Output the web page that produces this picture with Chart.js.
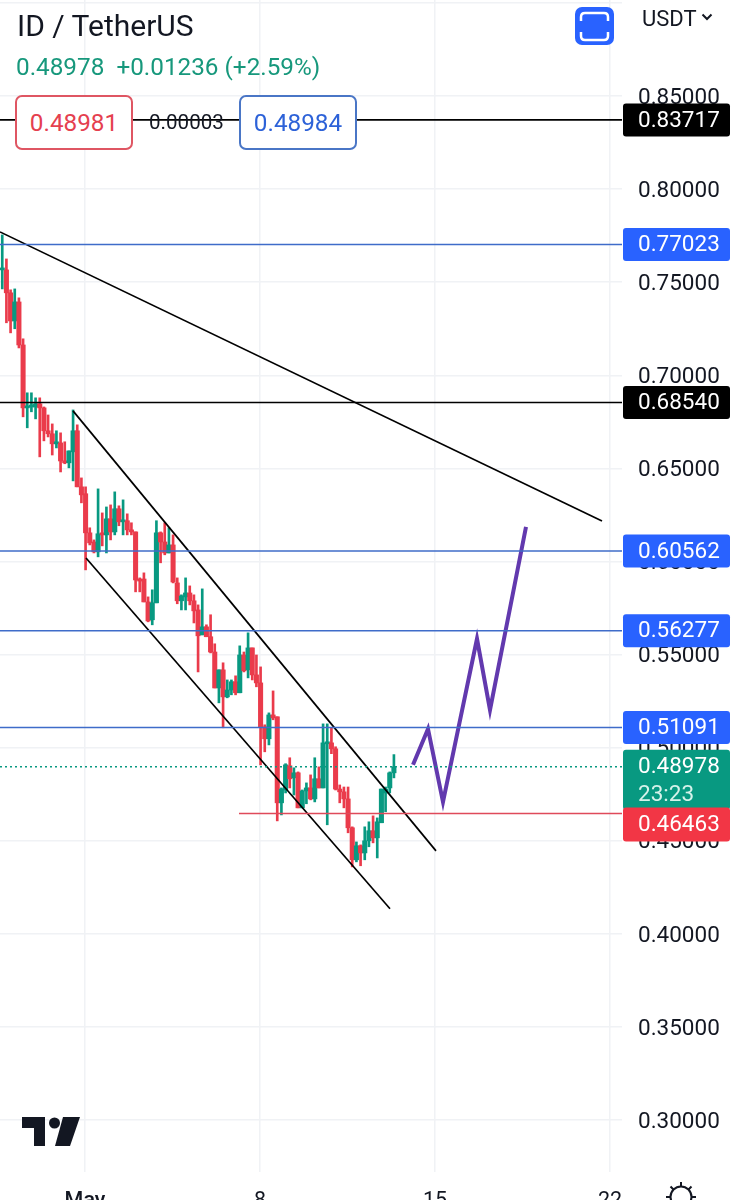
<!DOCTYPE html>
<html>
<head>
<meta charset="utf-8">
<title>ID / TetherUS</title>
<script src="https://cdn.jsdelivr.net/npm/chart.js@4"></script>
<style>
    html, body { margin: 0; padding: 0; background: #fff; }
    body { position: relative; width: 739px; height: 1200px; overflow: hidden; font-family: Roboto, sans-serif; color: #131722; }
    canvas { position: absolute; left: 0; top: 0; }
    .text { position: absolute; white-space: pre; line-height: 1; }
    .box { position: absolute; top: 95px; box-sizing: border-box; width: 118px; height: 55px; border-radius: 7px; border: 2px solid; background: #fff; font-size: 24.3px; line-height: 52px; text-align: center; }
    svg { position: absolute; }
</style>
</head>
<body>
<canvas id="chart" width="739" height="1200"></canvas>

<div class="text" style="left:17px;top:11px;font-size:30px;">ID / TetherUS</div>
<div class="text" style="left:16px;top:55px;font-size:24.3px;color:#17987c;">0.48978  +0.01236 (+2.59%)</div>
<div class="box" style="left:15px;color:#e5404f;border-color:#df5663;">0.48981</div>
<div class="text" style="left:149px;top:112px;font-size:20.6px;">0.00003</div>
<div class="box" style="left:239px;color:#2d62d8;border-color:#4a76c6;">0.48984</div>
<div class="text" style="left:642px;top:8px;font-size:22px;">USDT</div>

<svg style="left:701px;top:13px" width="12" height="8" viewBox="0 0 12 8"><path d="M1.5 1.5 L6 6 L10.5 1.5" fill="none" stroke="#131722" stroke-width="2"/></svg>

<svg style="left:575px;top:7px" width="39" height="38" viewBox="0 0 39 38">
    <rect width="39" height="38" rx="7" fill="#2962ff"/>
    <path d="M6 14 V10 Q6 6 10 6 H29 Q33 6 33 10 V14" fill="none" stroke="#fff" stroke-width="2.5"/>
    <path d="M6 25 V29 Q6 33 10 33 H29 Q33 33 33 29 V25" fill="none" stroke="#fff" stroke-width="2.5"/>
</svg>

<svg style="left:22px;top:1117px" width="58" height="29" viewBox="0 0 58 29">
    <path d="M0 0 H23 V29 H12 V11 H0 Z" fill="#131722"/>
    <circle cx="32.5" cy="6" r="5.5" fill="#131722"/>
    <path d="M41 0 H58 L48 29 H33 Z" fill="#131722"/>
</svg>

<svg style="left:664px;top:1180px" width="34" height="34" viewBox="0 0 34 34" fill="none" stroke="#131722" stroke-width="2">
    <circle cx="17" cy="17" r="10.5"/>
    <path d="M17 2 V6 M6.5 6.5 L9.5 9.5 M27.5 6.5 L24.5 9.5 M2 17 H6 M28 17 H32"/>
</svg>

<script>
// 4h candles, oldest first
const opens = [
    0.7566, 0.7566, 0.7443, 0.7292, 0.7394, 0.7163, 0.6825, 0.6830, 0.6830, 0.6847,
    0.6825, 0.6702, 0.6686, 0.6632, 0.6637, 0.6540, 0.6530, 0.6589, 0.6702, 0.6401,
    0.6364, 0.6154, 0.6105, 0.6052, 0.6154, 0.6143, 0.6229, 0.6159, 0.6283, 0.6213,
    0.6219, 0.6170, 0.6159, 0.5906, 0.5906, 0.5783, 0.5687, 0.5778, 0.6154, 0.6105,
    0.6046, 0.6089, 0.5885, 0.5789, 0.5810, 0.5831, 0.5789, 0.5740, 0.5606, 0.5649,
    0.5596, 0.5514, 0.5321, 0.5418, 0.5273, 0.5310, 0.5354, 0.5295, 0.5498, 0.5418,
    0.5536, 0.5391, 0.5348, 0.5112, 0.5048, 0.5176, 0.5166, 0.4704, 0.4773, 0.4903,
    0.4838, 0.4865, 0.4677, 0.4768, 0.4784, 0.4725, 0.4833, 0.4784, 0.5021, 0.5026,
    0.4994, 0.4778, 0.4763, 0.4725, 0.4570, 0.4398, 0.4473, 0.4435, 0.4500, 0.4554,
    0.4516, 0.4597, 0.4757, 0.4784, 0.4865
];
const highs = [
    0.7754, 0.7625, 0.7459, 0.7464, 0.7416, 0.7196, 0.6906, 0.6906, 0.6879, 0.6879,
    0.6830, 0.6787, 0.6739, 0.6702, 0.6691, 0.6643, 0.6594, 0.6814, 0.6734, 0.6449,
    0.6401, 0.6181, 0.6116, 0.6390, 0.6261, 0.6293, 0.6304, 0.6374, 0.6299, 0.6331,
    0.6256, 0.6208, 0.6159, 0.5912, 0.5939, 0.5810, 0.5848, 0.6219, 0.6159, 0.6208,
    0.6181, 0.6143, 0.5912, 0.5821, 0.5912, 0.5869, 0.5821, 0.5767, 0.5853, 0.5660,
    0.5714, 0.5558, 0.5418, 0.5456, 0.5364, 0.5364, 0.5386, 0.5547, 0.5514, 0.5617,
    0.5536, 0.5498, 0.5434, 0.5123, 0.5187, 0.5305, 0.5166, 0.4784, 0.4914, 0.4946,
    0.4892, 0.4870, 0.4773, 0.4811, 0.4854, 0.4946, 0.4897, 0.5128, 0.5128, 0.5107,
    0.5005, 0.4800, 0.4789, 0.4789, 0.4575, 0.4494, 0.4478, 0.4575, 0.4602, 0.4634,
    0.4623, 0.4778, 0.4789, 0.4870, 0.4963
];
const lows = [
    0.7464, 0.7282, 0.7228, 0.7250, 0.7147, 0.6777, 0.6718, 0.6804, 0.6766, 0.6562,
    0.6648, 0.6669, 0.6572, 0.6610, 0.6481, 0.6525, 0.6503, 0.6433, 0.6401, 0.6315,
    0.5955, 0.6089, 0.6046, 0.6025, 0.6084, 0.6046, 0.6116, 0.6143, 0.6192, 0.6143,
    0.6143, 0.6143, 0.5837, 0.5837, 0.5783, 0.5676, 0.5660, 0.5778, 0.5993, 0.6036,
    0.6046, 0.5885, 0.5773, 0.5740, 0.5740, 0.5767, 0.5670, 0.5407, 0.5606, 0.5596,
    0.5509, 0.5321, 0.5241, 0.5107, 0.5268, 0.5284, 0.5284, 0.5295, 0.5407, 0.5375,
    0.5364, 0.5327, 0.4908, 0.4978, 0.5015, 0.5150, 0.4607, 0.4639, 0.4757, 0.4784,
    0.4746, 0.4677, 0.4677, 0.4699, 0.4720, 0.4709, 0.4784, 0.4784, 0.4586, 0.4968,
    0.4773, 0.4704, 0.4677, 0.4543, 0.4360, 0.4387, 0.4366, 0.4398, 0.4468, 0.4489,
    0.4408, 0.4597, 0.4656, 0.4757, 0.4838
];
const closes = [
    0.7572, 0.7443, 0.7292, 0.7394, 0.7163, 0.6825, 0.6830, 0.6836, 0.6847, 0.6825,
    0.6702, 0.6686, 0.6632, 0.6637, 0.6540, 0.6530, 0.6594, 0.6702, 0.6401, 0.6358,
    0.6154, 0.6100, 0.6052, 0.6149, 0.6143, 0.6229, 0.6159, 0.6283, 0.6213, 0.6219,
    0.6170, 0.6159, 0.5901, 0.5895, 0.5783, 0.5681, 0.5778, 0.6154, 0.6105, 0.6046,
    0.6089, 0.5890, 0.5789, 0.5815, 0.5831, 0.5789, 0.5735, 0.5601, 0.5649, 0.5596,
    0.5514, 0.5321, 0.5418, 0.5273, 0.5310, 0.5354, 0.5295, 0.5498, 0.5413, 0.5536,
    0.5391, 0.5348, 0.5112, 0.5048, 0.5176, 0.5160, 0.4704, 0.4778, 0.4908, 0.4833,
    0.4865, 0.4677, 0.4768, 0.4784, 0.4725, 0.4833, 0.4784, 0.5026, 0.5026, 0.4994,
    0.4778, 0.4763, 0.4725, 0.4570, 0.4398, 0.4473, 0.4435, 0.4500, 0.4554, 0.4516,
    0.4602, 0.4778, 0.4778, 0.4865, 0.48978
];

// x axis is in days, May 1 = 1
const firstCandleDay = -2.31;
const candleStep = 1 / 6;
const dayTicks = [1, 8, 15, 22];
const dayLabels = ['May', '8', '15', '22'];
const dayMin = -2.4;
const dayMax = 22.48;

const priceMin = 0.27213;
const priceMax = 0.90156;

const lastPrice = 0.48978;
const lastPriceTimer = '23:23';
const blueLevels = [0.77023, 0.60562, 0.56277, 0.51091];
const blackLevels = [0.83717, 0.68540];
const redLevel = 0.46463;
const redLevelStartDay = 7.16;

// drawn trend lines and the projected path
const trendDays = [-2.4, 21.68];
const trendPrices = [0.7770, 0.6218];
const channelTopDays = [0.52, 15.04];
const channelTopPrices = [0.6809, 0.4446];
const channelBottomDays = [1.04, 13.2];
const channelBottomPrices = [0.6019, 0.4135];
const projectionDays = [14.12, 14.72, 15.32, 16.68, 17.2, 18.64];
const projectionPrices = [0.4908, 0.5101, 0.4709, 0.5585, 0.5203, 0.6186];

const GREEN = '#089981';
const RED = '#ea3b4b';
const BLUE_TAG = '#2962ff';
const BLUE_LINE = '#3f6cc9';
const GRID = '#f0f2f5';

const FONT = 'Roboto, sans-serif';

const candleDays = opens.map((_, i) => firstCandleDay + i * candleStep);
const candleColors = opens.map((o, i) => closes[i] >= o ? GREEN : RED);

function pairs(xs, ys) {
    return xs.map((x, i) => ({ x, y: ys[i] }));
}

function level(price, start = dayMin) {
    return [{ x: start, y: price }, { x: dayMax, y: price }];
}

function lineSet(data, color, width, extra = {}) {
    return {
        type: 'line',
        data,
        borderColor: color,
        borderWidth: width,
        pointRadius: 0,
        tension: 0,
        order: 1,
        ...extra
    };
}

const datasets = [
    {
        type: 'bar',
        data: candleDays.map((x, i) => ({ x, y: [lows[i], highs[i]] })),
        backgroundColor: candleColors,
        barThickness: 2,
        grouped: false,
        order: 3
    },
    {
        type: 'bar',
        data: candleDays.map((x, i) => ({ x, y: [Math.min(opens[i], closes[i]), Math.max(opens[i], closes[i])] })),
        backgroundColor: candleColors,
        barThickness: 4.4,
        minBarLength: 2,
        grouped: false,
        order: 2
    },
    lineSet(level(lastPrice), GREEN, 1.5, { borderDash: [2, 3] }),
    ...blueLevels.map((p) => lineSet(level(p), BLUE_LINE, 1.5)),
    ...blackLevels.map((p) => lineSet(level(p), '#000', 1.6)),
    lineSet(level(redLevel, redLevelStartDay), '#df4a5a', 1.5),
    lineSet(pairs(trendDays, trendPrices), '#000', 1.7),
    lineSet(pairs(channelTopDays, channelTopPrices), '#000', 1.7),
    lineSet(pairs(channelBottomDays, channelBottomPrices), '#000', 1.7),
    lineSet(pairs(projectionDays, projectionPrices), '#6239ae', 4, { borderJoinStyle: 'miter' })
];

// price tags in the right-hand scale
const priceTags = {
    id: 'priceTags',
    afterDatasetsDraw(chart) {
        const { ctx, chartArea, scales } = chart;
        const left = chartArea.right + 1;
        const width = 107;
        const font = `22.5px ${FONT}`;

        function tag(top, height, color) {
            ctx.fillStyle = color;
            ctx.beginPath();
            ctx.roundRect(left, top, width, height, 3);
            ctx.fill();
        }
        function label(text, y, color = '#fff') {
            ctx.fillStyle = color;
            ctx.fillText(text, left + 15, y);
        }

        ctx.save();
        ctx.font = font;
        ctx.textBaseline = 'middle';
        ctx.textAlign = 'left';

        blackLevels.forEach((p) => {
            const y = scales.y.getPixelForValue(p);
            tag(y - 16.5, 33, '#000');
            label(p.toFixed(5), y + 1);
        });
        blueLevels.forEach((p) => {
            const y = scales.y.getPixelForValue(p);
            tag(y - 16.5, 33, BLUE_TAG);
            label(p.toFixed(5), y + 1);
        });

        const lastY = scales.y.getPixelForValue(lastPrice);
        tag(lastY - 17, 60, GREEN);
        label(lastPrice.toFixed(5), lastY + 1);
        label(lastPriceTimer, lastY + 29, '#d6f2ea');

        const redY = scales.y.getPixelForValue(redLevel);
        tag(redY - 6, 34, '#f23645');
        label(redLevel.toFixed(5), redY + 12);

        ctx.restore();
    }
};

new Chart(document.getElementById('chart'), {
    data: { datasets },
    plugins: [priceTags],
    options: {
        responsive: false,
        animation: false,
        layout: { padding: 0 },
        plugins: {
            legend: { display: false },
            tooltip: { enabled: false }
        },
        scales: {
            x: {
                type: 'linear',
                min: dayMin,
                max: dayMax,
                offset: false,
                border: { display: false },
                grid: { color: GRID, lineWidth: 1.5, drawTicks: false, offset: false },
                afterBuildTicks(scale) {
                    scale.ticks = dayTicks.map((value) => ({ value }));
                },
                afterFit(scale) {
                    scale.height = 28;
                    scale.paddingLeft = 0;
                    scale.paddingRight = 0;
                },
                ticks: {
                    autoSkip: false,
                    maxRotation: 0,
                    padding: 17,
                    color: '#131722',
                    font: (c) => ({ family: FONT, size: 21.5, weight: c.tick && c.tick.value === 1 ? '500' : '400' }),
                    callback: (value) => dayLabels[dayTicks.indexOf(value)]
                }
            },
            y: {
                type: 'linear',
                position: 'right',
                min: priceMin,
                max: priceMax,
                border: { display: false },
                grid: { color: GRID, lineWidth: 1.5, drawTicks: false },
                afterFit(scale) {
                    scale.width = 117;
                    scale.paddingTop = 0;
                    scale.paddingBottom = 0;
                },
                ticks: {
                    stepSize: 0.05,
                    includeBounds: false,
                    padding: 16,
                    labelOffset: 2,
                    color: '#131722',
                    font: { family: FONT, size: 22.5 },
                    callback: (value) => value > 0.88 ? '' : value.toFixed(5)
                }
            }
        }
    }
});
</script>
</body>
</html>
